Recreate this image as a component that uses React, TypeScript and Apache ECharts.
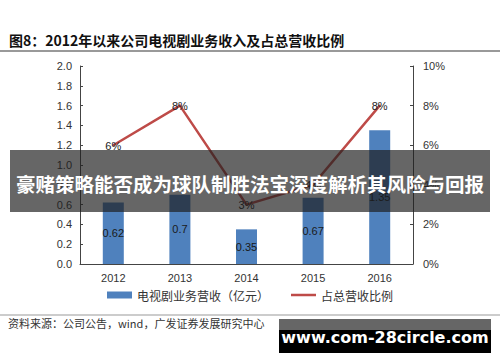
import React, { useEffect, useRef } from "react";
import * as echarts from "echarts";

const categories = ["2012", "2013", "2014", "2015", "2016"];
const revenue = [0.62, 0.7, 0.35, 0.67, 1.35];
const ratio = [6, 8, 3, 4, 8];
const leftTicks = { min: 0, max: 2, interval: 0.2 };
const rightTicks = { min: 0, max: 10, interval: 2 };
const barName = "电视剧业务营收（亿元）";
const lineName = "占总营收比例";
const titleText = "图8：2012年以来公司电视剧业务收入及占总营收比例";
const sourceText = "资料来源：公司公告，wind，广发证券发展研究中心";
const bannerText = "豪赌策略能否成为球队制胜法宝深度解析其风险与回报";
const watermarkText = "www.com-28circle.com";

const latin = "'Liberation Sans', Arial, sans-serif";
const cjk = "'Noto Sans CJK SC', 'Liberation Sans', sans-serif";
const lineColor = "#BE4B48";

export default function App() {
  const ref = useRef<HTMLDivElement>(null);
  useEffect(() => {
    if (!ref.current) return;
    const chart = echarts.init(ref.current, null, { renderer: "svg" });
    const axisLine = { show: true, lineStyle: { color: "#444", width: 1 } };
    chart.setOption({
      animation: false,
      backgroundColor: "#fff",
      grid: { left: 80, right: 87, top: 66, bottom: 98 },
      legend: {
        bottom: 56,
        left: "center",
        itemWidth: 25,
        itemHeight: 7,
        itemGap: 22,
        textStyle: { fontFamily: cjk, fontSize: 12, color: "#333" },
        data: [
          { name: barName, icon: "rect" },
          {
            name: lineName,
            icon: "path://M0 0H100V10H0Z",
            itemStyle: { color: lineColor, opacity: 1 },
          },
        ],
      },
      xAxis: {
        type: "category",
        data: categories,
        axisLine,
        axisTick: { show: false },
        axisLabel: { fontFamily: latin, fontSize: 11, color: "#333", margin: 8 },
      },
      yAxis: [
        {
          type: "value",
          ...leftTicks,
          axisLine,
          axisTick: { show: true, inside: true, length: 3, lineStyle: { color: "#444" } },
          splitLine: { show: false },
          axisLabel: {
            fontFamily: latin,
            fontSize: 11,
            color: "#333",
            margin: 8,
            formatter: (v: number) => v.toFixed(1),
          },
        },
        {
          type: "value",
          ...rightTicks,
          axisLine,
          axisTick: { show: true, inside: true, length: 3, lineStyle: { color: "#444" } },
          splitLine: { show: false },
          axisLabel: {
            fontFamily: latin,
            fontSize: 11,
            color: "#333",
            margin: 10,
            formatter: (v: number) => v + "%",
          },
        },
      ],
      series: [
        {
          name: barName,
          type: "bar",
          data: revenue,
          barWidth: 21,
          itemStyle: { color: "#4F81BD" },
          label: {
            show: true,
            position: "inside",
            fontFamily: latin,
            fontSize: 11,
            color: "#1a1a1a",
          },
        },
        {
          name: lineName,
          type: "line",
          yAxisIndex: 1,
          data: ratio,
          symbol: "circle",
          symbolSize: 2,
          showSymbol: true,
          lineStyle: { color: lineColor, width: 2.5 },
          itemStyle: { color: lineColor },
          label: {
            show: true,
            position: "top",
            distance: 0,
            offset: [0, 7],
            fontFamily: latin,
            fontSize: 11,
            color: "#222",
            formatter: (p: any) => p.value + "%",
          },
          z: 3,
        },
      ],
      graphic: [
        {
          type: "text",
          left: 9,
          top: 33,
          style: {
            text: titleText,
            font: `bold 14px ${cjk}`,
            fill: "#111",
          },
        },
        {
          type: "line",
          shape: { x1: 0, y1: 51, x2: 500, y2: 51 },
          style: { stroke: "#777", lineWidth: 1.5 },
        },
        {
          type: "line",
          shape: { x1: 0, y1: 315, x2: 500, y2: 315 },
          style: { stroke: "#999", lineWidth: 1 },
        },
        {
          type: "text",
          left: 8,
          top: 317,
          style: {
            text: sourceText,
            font: `11px ${cjk}`,
            fill: "#333",
          },
        },
        {
          type: "rect",
          shape: { x: 10, y: 150, width: 480, height: 62 },
          style: { fill: "rgba(30,30,30,0.68)" },
          z: 100,
        },
        {
          type: "text",
          x: 250,
          y: 183,
          style: {
            text: bannerText,
            font: `bold 19.5px ${cjk}`,
            fill: "#fff",
            align: "center",
            verticalAlign: "middle",
          },
          z: 101,
        },
        {
          type: "rect",
          shape: { x: 279, y: 319, width: 212, height: 34 },
          style: { fill: "#000" },
          z: 100,
        },
        {
          type: "rect",
          shape: { x: 279, y: 319, width: 212, height: 11 },
          style: { fill: "#666" },
          z: 100,
        },
        {
          type: "text",
          x: 385,
          y: 337,
          style: {
            text: watermarkText,
            font: `bold 16px 'DejaVu Sans', sans-serif`,
            fill: "#fff",
            align: "center",
            verticalAlign: "middle",
          },
          z: 101,
        },
      ],
    });
    return () => chart.dispose();
  }, []);
  return <div ref={ref} style={{ width: 500, height: 362, position: "absolute", left: 0, top: 0 }} />;
}
